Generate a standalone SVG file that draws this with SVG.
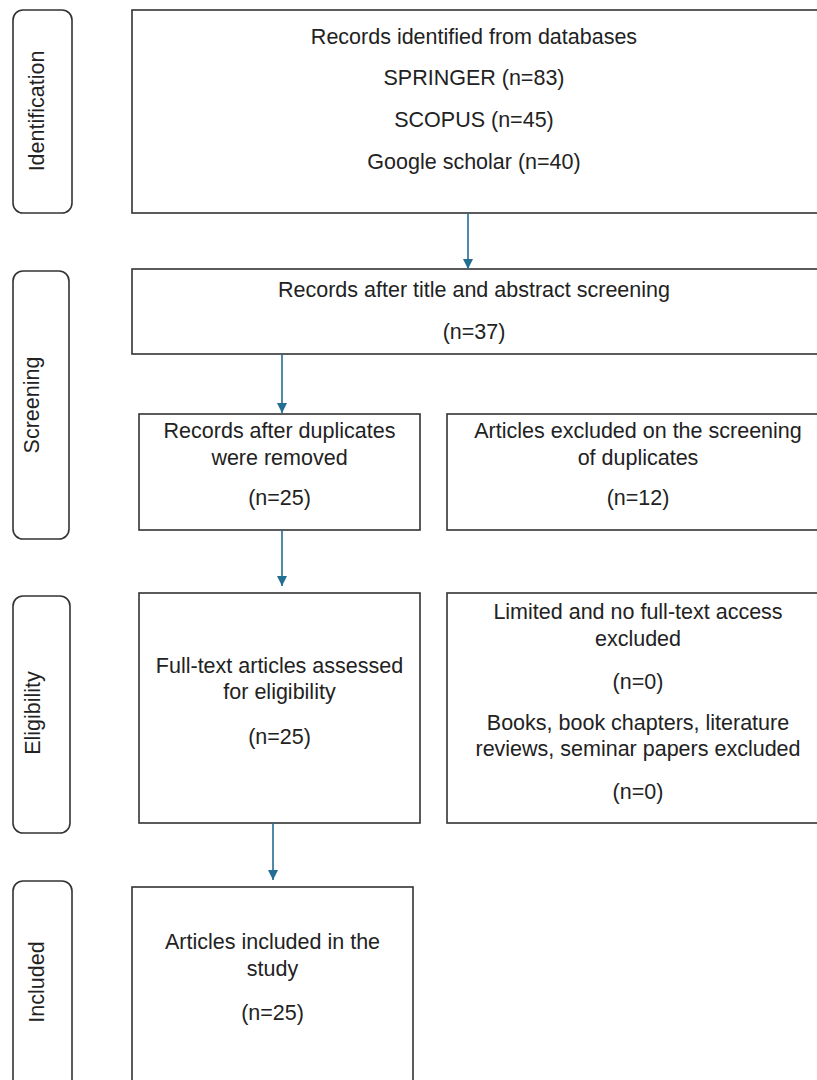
<svg xmlns="http://www.w3.org/2000/svg" width="817" height="1080" viewBox="0 0 817 1080">
  <style>
    .box { fill: #ffffff; stroke: #333333; stroke-width: 1.6; }
    .stage { fill: #ffffff; stroke: #333333; stroke-width: 1.6; }
    .t { font-family: "Liberation Sans", Arial, sans-serif; font-size: 21.5px; fill: #222222; text-anchor: middle; }
    .lbl { font-family: "Liberation Sans", Arial, sans-serif; font-size: 21.5px; fill: #222222; text-anchor: middle; }
    .flow { stroke: #236e93; stroke-width: 1.6; fill: none; marker-end: url(#head); }
  </style>
  <defs>
    <marker id="head" viewBox="0 0 10 10" refX="10" refY="5" markerWidth="10" markerHeight="10" markerUnits="userSpaceOnUse" orient="auto">
      <path d="M0,0 L10,5 L0,10 Z" fill="#236e93"/>
    </marker>
  </defs>

  <rect width="817" height="1080" fill="#ffffff"/>

  <!-- stage labels down the left side -->
  <g id="stage-identification">
    <rect class="stage" x="13" y="10" width="59" height="203" rx="10"/>
    <text class="lbl" transform="translate(43.5,111) rotate(-90)">Identification</text>
  </g>
  <g id="stage-screening">
    <rect class="stage" x="13" y="271" width="56" height="268" rx="10"/>
    <text class="lbl" transform="translate(39,405) rotate(-90)">Screening</text>
  </g>
  <g id="stage-eligibility">
    <rect class="stage" x="13" y="596" width="57" height="237" rx="10"/>
    <text class="lbl" transform="translate(40,713) rotate(-90)">Eligibility</text>
  </g>
  <g id="stage-included">
    <rect class="stage" x="13" y="881" width="59" height="215" rx="10"/>
    <text class="lbl" transform="translate(43.5,982) rotate(-90)">Included</text>
  </g>

  <!-- flow boxes -->
  <g id="identified">
    <rect class="box" x="132" y="10" width="700" height="203"/>
    <text class="t" x="474" y="44">Records identified from databases</text>
    <text class="t" x="474" y="85">SPRINGER (n=83)</text>
    <text class="t" x="474" y="127">SCOPUS (n=45)</text>
    <text class="t" x="474" y="169">Google scholar (n=40)</text>
  </g>
  <g id="title-abstract">
    <rect class="box" x="132" y="269" width="700" height="85"/>
    <text class="t" x="474" y="297">Records after title and abstract screening</text>
    <text class="t" x="474" y="339">(n=37)</text>
  </g>
  <g id="duplicates-removed">
    <rect class="box" x="139" y="414" width="281" height="116"/>
    <text class="t" x="279.5" y="438">Records after duplicates</text>
    <text class="t" x="279.5" y="465">were removed</text>
    <text class="t" x="279.5" y="505">(n=25)</text>
  </g>
  <g id="duplicates-excluded">
    <rect class="box" x="447" y="414" width="382" height="116"/>
    <text class="t" x="638" y="438">Articles excluded on the screening</text>
    <text class="t" x="638" y="465">of duplicates</text>
    <text class="t" x="638" y="505">(n=12)</text>
  </g>
  <g id="full-text">
    <rect class="box" x="139" y="593" width="281" height="230"/>
    <text class="t" x="279.5" y="673">Full-text articles assessed</text>
    <text class="t" x="279.5" y="699">for eligibility</text>
    <text class="t" x="279.5" y="744">(n=25)</text>
  </g>
  <g id="full-text-excluded">
    <rect class="box" x="447" y="593" width="382" height="230"/>
    <text class="t" x="638" y="619">Limited and no full-text access</text>
    <text class="t" x="638" y="646">excluded</text>
    <text class="t" x="638" y="689">(n=0)</text>
    <text class="t" x="638" y="730">Books, book chapters, literature</text>
    <text class="t" x="638" y="756">reviews, seminar papers excluded</text>
    <text class="t" x="638" y="799">(n=0)</text>
  </g>
  <g id="included">
    <rect class="box" x="132" y="887" width="281" height="210"/>
    <text class="t" x="272.5" y="949">Articles included in the</text>
    <text class="t" x="272.5" y="976">study</text>
    <text class="t" x="272.5" y="1020">(n=25)</text>
  </g>

  <!-- connectors -->
  <g id="connectors">
    <line class="flow" x1="468" y1="213" x2="468" y2="269"/>
    <line class="flow" x1="282" y1="354" x2="282" y2="413"/>
    <line class="flow" x1="282" y1="530" x2="282" y2="586"/>
    <line class="flow" x1="273" y1="823" x2="273" y2="880"/>
  </g>
</svg>
